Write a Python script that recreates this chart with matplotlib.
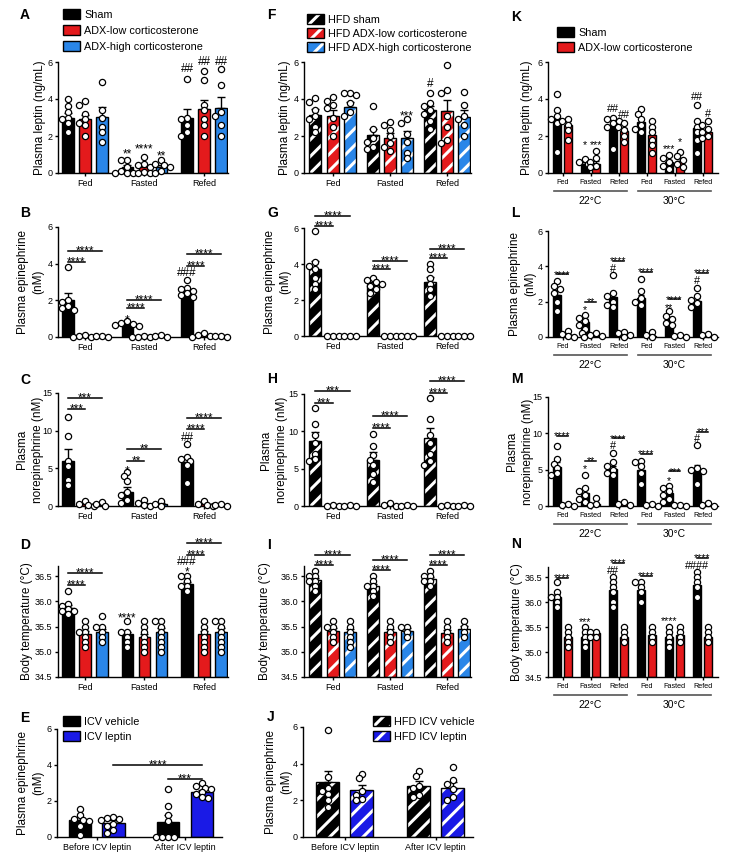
import matplotlib.pyplot as plt
from matplotlib.patches import Patch
from matplotlib.legend_handler import HandlerTuple

plt.rcParams['font.family'] = ['Liberation Sans', 'DejaVu Sans']
plt.rcParams['hatch.linewidth'] = 2.2
plt.rcParams['axes.linewidth'] = 1.0

RED = '#e41a1c'
BLUE = '#2a86e8'
DBLUE = '#1a1ae6'

# ---------------- data ----------------
meal = ['Fed', 'Fasted', 'Refed']
icv = ['Before ICV leptin', 'After ICV leptin']
temp_groups = ['Fed', 'Fasted', 'Refed', 'Fed', 'Fasted', 'Refed']

# A: plasma leptin, chow (sham, ADX-low, ADX-high) x (fed, fasted, refed)
A_mean = [[3.0, 0.3, 3.0], [2.9, 0.3, 3.45], [3.05, 0.35, 3.5]]
A_sem = [[0.25, 0.15, 0.45], [0.25, 0.12, 0.5], [0.5, 0.1, 0.6]]
A_pts = [[[4.0, 3.6, 3.3, 3.0, 2.9, 2.7, 2.2], [0.7, 0.7, 0.3, 0.1, 0.0, 0.0, 0.0], [5.1, 3.0, 2.9, 2.6, 2.2, 2.0]],
         [[3.9, 3.7, 3.2, 2.9, 2.7, 2.6, 2.0], [0.85, 0.5, 0.45, 0.3, 0.05, 0.0, 0.0], [5.5, 5.05, 3.7, 3.4, 2.9, 2.6, 2.0]],
         [[4.9, 3.4, 3.0, 2.5, 2.2, 1.7], [0.7, 0.5, 0.45, 0.35, 0.1, 0.0], [5.6, 4.75, 3.3, 3.1, 2.6, 2.0]]]

# B: plasma epinephrine
B_mean = [[2.0, 0.7, 2.5], [0.05, 0.05, 0.1], [0.05, 0.05, 0.08]]
B_sem = [[0.38, 0.05, 0.12], [0.02, 0.02, 0.03], [0.02, 0.02, 0.02]]
B_pts = [[[3.8, 2.0, 1.9, 1.7, 1.6, 1.5], [0.85, 0.75, 0.7, 0.65, 0.6], [3.1, 2.7, 2.6, 2.5, 2.4, 2.3, 2.2]],
         [[0.1, 0.05, 0.0, 0.0], [0.05, 0.0, 0.0, 0.0], [0.2, 0.1, 0.05, 0.0]],
         [[0.05, 0.05, 0.0], [0.1, 0.05, 0.0], [0.05, 0.05, 0.0]]]

# C: plasma norepinephrine
C_mean = [[6.0, 1.9, 5.8], [0.2, 0.3, 0.2], [0.15, 0.25, 0.1]]
C_sem = [[1.6, 0.6, 0.6], [0.1, 0.1, 0.1], [0.1, 0.1, 0.05]]
C_pts = [[[11.8, 9.3, 6.0, 5.3, 3.5, 2.8], [4.5, 4.0, 3.3, 1.8, 1.5, 0.8, 0.4], [8.2, 6.5, 6.2, 6.0, 5.5, 3.0]],
         [[0.6, 0.3, 0.1, 0.0], [0.8, 0.4, 0.1, 0.0], [0.6, 0.3, 0.1, 0.0]],
         [[0.5, 0.2, 0.0], [0.7, 0.3, 0.0], [0.2, 0.1, 0.0]]]

# D: body temperature
D_mean = [[35.87, 35.35, 36.35], [35.35, 35.3, 35.35], [35.4, 35.4, 35.4]]
D_sem = [[0.05, 0.05, 0.04], [0.06, 0.06, 0.06], [0.06, 0.07, 0.07]]
D_pts = [[[36.2, 35.95, 35.9, 35.85, 35.8, 35.8, 35.75], [35.6, 35.4, 35.4, 35.3, 35.2, 35.1], [36.5, 36.5, 36.4, 36.3, 36.3, 36.2]],
         [[35.6, 35.5, 35.4, 35.4, 35.3, 35.2, 35.1], [35.6, 35.5, 35.4, 35.3, 35.2, 35.1, 35.0], [35.6, 35.5, 35.4, 35.3, 35.2, 35.1, 35.0]],
         [[35.7, 35.5, 35.5, 35.4, 35.3, 35.2], [35.6, 35.6, 35.5, 35.4, 35.3, 35.2, 35.1, 35.0], [35.6, 35.6, 35.5, 35.4, 35.3, 35.2, 35.1, 35.0]]]

# E: epinephrine after ICV (vehicle, leptin) x (before, after)
E_mean = [[0.95, 0.85], [0.8, 2.5]]
E_sem = [[0.15, 0.35], [0.12, 0.1]]
E_pts = [[[1.55, 1.2, 1.0, 0.95, 0.9, 0.6, 0.1], [2.65, 1.7, 1.2, 0.9, 0.0, 0.0, 0.0, 0.0]],
         [[1.1, 1.05, 1.0, 0.95, 0.7, 0.6, 0.4, 0.25], [3.0, 2.85, 2.75, 2.65, 2.5, 2.4, 2.2, 2.15]]]

# F: HFD plasma leptin
F_mean = [[3.15, 2.05, 3.4], [3.1, 1.9, 3.35], [3.55, 1.9, 3.05]]
F_sem = [[0.3, 0.35, 0.2], [0.3, 0.25, 0.6], [0.28, 0.35, 0.35]]
F_pts = [[[4.05, 3.85, 3.4, 3.1, 2.9, 2.5, 2.2], [3.6, 2.4, 1.9, 1.7, 1.4, 1.3], [4.3, 3.8, 3.6, 3.4, 3.2, 2.8, 2.4]],
         [[4.1, 3.9, 3.7, 3.5, 3.0, 2.5, 2.0], [2.75, 2.6, 2.3, 2.0, 1.6, 1.4, 1.2], [5.85, 4.5, 4.3, 3.1, 2.5, 1.8, 1.6]],
         [[4.35, 4.3, 4.2, 3.8, 3.3, 3.1], [2.9, 2.7, 2.1, 1.7, 1.1, 0.8], [4.4, 3.7, 3.1, 2.9, 2.6, 2.0]]]

# G: HFD epinephrine
G_mean = [[3.7, 2.9, 3.0], [0.02, 0.02, 0.02], [0.02, 0.02, 0.02]]
G_sem = [[0.45, 0.12, 0.3], [0.01, 0.01, 0.01], [0.01, 0.01, 0.01]]
G_pts = [[[5.85, 4.1, 3.9, 3.7, 3.2, 2.9, 2.6], [3.25, 3.1, 3.0, 2.9, 2.8, 2.6, 2.4], [4.0, 3.7, 3.2, 2.9, 2.6, 2.2]],
         [[0.0, 0.0, 0.0], [0.0, 0.0, 0.0], [0.0, 0.0, 0.0]],
         [[0.0, 0.0, 0.0], [0.0, 0.0, 0.0], [0.0, 0.0, 0.0]]]

# H: HFD norepinephrine
H_mean = [[8.7, 6.1, 9.1], [0.1, 0.15, 0.1], [0.1, 0.1, 0.1]]
H_sem = [[1.2, 1.1, 1.4], [0.05, 0.05, 0.05], [0.05, 0.05, 0.05]]
H_pts = [[[13.1, 11.0, 9.5, 8.5, 7.0, 6.3, 6.0], [9.7, 8.0, 6.8, 6.2, 5.5, 4.3, 3.2], [14.5, 11.7, 9.5, 8.5, 7.0, 6.0, 5.5]],
         [[0.1, 0.0, 0.0], [0.4, 0.1, 0.0], [0.1, 0.0, 0.0]],
         [[0.2, 0.0, 0.0], [0.2, 0.0, 0.0], [0.2, 0.0, 0.0]]]

# I: HFD body temperature
I_mean = [[36.42, 36.3, 36.45], [35.42, 35.4, 35.38], [35.4, 35.42, 35.45]]
I_sem = [[0.05, 0.05, 0.04], [0.05, 0.05, 0.05], [0.06, 0.06, 0.06]]
I_pts = [[[36.6, 36.5, 36.5, 36.4, 36.4, 36.3, 36.2], [36.5, 36.4, 36.3, 36.3, 36.2, 36.1], [36.6, 36.5, 36.5, 36.4, 36.4, 36.3]],
         [[35.6, 35.5, 35.5, 35.4, 35.3, 35.2], [35.6, 35.5, 35.4, 35.3, 35.2], [35.6, 35.5, 35.4, 35.3, 35.2]],
         [[35.6, 35.5, 35.4, 35.3, 35.2, 35.1], [35.5, 35.5, 35.4, 35.3], [35.6, 35.5, 35.4, 35.3]]]

# J: HFD epinephrine after ICV
J_mean = [[3.0, 2.8], [2.55, 2.7]]
J_sem = [[0.6, 0.25], [0.3, 0.3]]
J_pts = [[[5.85, 3.25, 2.7, 2.5, 2.35, 2.0, 1.65], [3.6, 3.35, 2.8, 2.7, 2.3, 2.2]],
         [[3.45, 3.2, 2.5, 2.3, 2.1, 2.0], [3.8, 3.1, 2.9, 2.6, 2.2, 2.0]]]

# K-N: (sham, ADX-low) x 6 groups (22C fed/fasted/refed, 30C fed/fasted/refed)
K_mean = [[2.95, 0.5, 2.6, 2.75, 0.6, 2.45], [2.6, 0.5, 2.25, 2.05, 0.65, 2.2]]
K_sem = [[0.4, 0.08, 0.25, 0.2, 0.12, 0.35], [0.2, 0.15, 0.2, 0.3, 0.15, 0.15]]
K_pts = [[[4.25, 3.4, 3.1, 2.9, 2.7, 1.15], [0.75, 0.6, 0.5, 0.4], [3.0, 2.9, 2.8, 2.7, 2.5, 1.3],
          [3.45, 3.2, 2.9, 2.6, 2.4, 2.2], [0.95, 0.8, 0.6, 0.4, 0.2], [3.7, 2.8, 2.5, 2.2, 1.8, 1.1]],
         [[2.9, 2.8, 2.6, 2.3, 1.8], [1.2, 0.8, 0.6, 0.4, 0.3], [2.7, 2.5, 2.3, 2.0, 1.7],
          [2.8, 2.5, 2.2, 1.8, 1.5, 1.1], [1.15, 0.9, 0.7, 0.5, 0.3], [2.8, 2.6, 2.4, 2.2, 2.0, 1.9]]]

L_mean = [[2.4, 0.85, 2.25, 2.2, 1.0, 2.05], [0.1, 0.08, 0.1, 0.08, 0.05, 0.08]]
L_sem = [[0.25, 0.15, 0.25, 0.2, 0.12, 0.15], [0.05, 0.05, 0.05, 0.05, 0.05, 0.05]]
L_pts = [[[3.15, 2.9, 2.7, 2.5, 2.0, 1.5], [1.25, 1.1, 0.9, 0.7, 0.45, 0.2], [3.5, 2.5, 2.3, 2.0, 1.8, 1.7],
          [3.3, 2.6, 2.2, 2.0, 1.8], [1.45, 1.2, 1.0, 0.8, 0.7], [2.8, 2.3, 2.1, 1.9, 1.7]],
         [[0.35, 0.15, 0.05, 0.0], [0.2, 0.1, 0.05, 0.0], [0.3, 0.2, 0.1, 0.0],
          [0.3, 0.1, 0.0], [0.1, 0.05, 0.0], [0.15, 0.1, 0.0]]]

M_mean = [[5.4, 1.8, 5.1, 5.0, 1.8, 5.0], [0.2, 0.3, 0.3, 0.1, 0.1, 0.1]]
M_sem = [[0.6, 0.55, 0.45, 0.6, 0.35, 0.6], [0.05, 0.15, 0.1, 0.05, 0.05, 0.05]]
M_pts = [[[8.2, 6.4, 5.8, 5.2, 4.5, 4.2], [4.3, 2.5, 2.0, 1.5, 1.0, 0.5], [7.3, 6.0, 5.5, 5.0, 4.5, 4.2],
          [6.2, 6.0, 5.5, 4.5, 3.0], [2.8, 2.5, 2.0, 1.5, 1.0, 0.5], [8.4, 5.2, 5.0, 4.8, 3.0]],
         [[0.3, 0.1, 0.0], [1.1, 0.3, 0.1], [0.6, 0.3, 0.1], [0.3, 0.1, 0.0], [0.2, 0.1, 0.0], [0.4, 0.1, 0.0]]]

N_mean = [[36.1, 35.3, 36.25, 36.25, 35.3, 36.35], [35.3, 35.38, 35.3, 35.35, 35.35, 35.3]]
N_sem = [[0.07, 0.07, 0.09, 0.07, 0.07, 0.08], [0.06, 0.03, 0.05, 0.05, 0.06, 0.05]]
N_pts = [[[36.4, 36.2, 36.1, 36.1, 36.0, 35.9], [35.5, 35.4, 35.3, 35.2, 35.1], [36.5, 36.4, 36.3, 36.2, 36.0, 35.9],
          [36.4, 36.4, 36.3, 36.2, 36.0], [35.5, 35.4, 35.3, 35.2, 35.1], [36.6, 36.5, 36.4, 36.3, 36.1]],
         [[35.5, 35.4, 35.3, 35.2, 35.1], [35.4, 35.4, 35.3, 35.3], [35.5, 35.4, 35.3, 35.2],
          [35.5, 35.4, 35.3, 35.2], [35.5, 35.4, 35.3, 35.2], [35.5, 35.4, 35.3, 35.2]]]

# ---------------- helpers ----------------
W, H = 732, 866
fig = plt.figure(figsize=(W / 100, H / 100), dpi=100)


def new_ax(x0, x1, ytop, ybot, ylim, yticks, xlim):
    ax = fig.add_axes([x0 / W, 1 - ybot / H, (x1 - x0) / W, (ybot - ytop) / H])
    ax.spines[['top', 'right']].set_visible(False)
    ax.tick_params(length=2.5, width=1, labelsize=6.5, pad=1.5)
    ax.set_ylim(*ylim)
    ax.set_yticks(yticks)
    ax.set_xlim(*xlim)
    return ax


def ylab(ax, text, xpx):
    bb = ax.get_position()
    ax.set_ylabel(text, fontsize=8.5, va='center', ha='center', linespacing=1.35)
    ax.yaxis.set_label_coords((xpx / W - bb.x0) / bb.width, 0.5)


def swarm(ax, x0, vals, step=3.0, dmin=4.8):
    # spread overlapping points sideways, like Prism's scatter-on-bar
    bb = ax.get_position()
    xl, yl = ax.get_xlim(), ax.get_ylim()
    sx = bb.width * W / (xl[1] - xl[0])
    sy = bb.height * H / (yl[1] - yl[0])
    placed, out = [], []
    for v in vals:
        yp = v * sy
        for k in [0, -1, 1, -2, 2, -3, 3, -4, 4]:
            xp = k * step
            if all((xp - a) ** 2 + (yp - b) ** 2 >= dmin ** 2 for a, b in placed):
                break
        placed.append((xp, yp))
        out.append(x0 + xp / sx)
    return out


def bars(ax, pos, means, sems, pts, colors, width, offs, base=0, hatch=None, cap=3):
    for k, c in enumerate(colors):
        for g, x in enumerate(pos):
            xb = x + offs[k]
            m, s, p = means[k][g], sems[k][g], pts[k][g]
            if hatch:
                ax.bar(xb, m - base, width, bottom=base, color=c, edgecolor='white',
                       hatch=hatch, linewidth=0, zorder=2)
                ax.bar(xb, m - base, width, bottom=base, fill=False, edgecolor='black',
                       linewidth=1, zorder=2.1)
            else:
                ax.bar(xb, m - base, width, bottom=base, color=c, edgecolor='black',
                       linewidth=1, zorder=2)
            ax.errorbar(xb, m, yerr=[[0], [s]], color='black', capsize=cap,
                        elinewidth=1, capthick=1, zorder=1.9)
            ax.scatter(swarm(ax, xb, p), p, s=20, facecolor='white', edgecolor='black',
                       linewidth=0.9, zorder=3, clip_on=False)


def bracket(ax, x1, x2, y, s, fs=8.5):
    ax.plot([x1, x2], [y, y], color='black', lw=1.1, clip_on=False, zorder=4)
    ax.annotate(s, ((x1 + x2) / 2, y), xytext=(0, -2.5), textcoords='offset points',
                ha='center', va='baseline', fontsize=fs, annotation_clip=False)


def mark(ax, x, y, s, fs=8.5):
    off = -4.6 if s[0] == '*' else -2.8
    ax.annotate(s, (x, y), xytext=(0, off * fs / 8.5), textcoords='offset points',
                ha='center', va='baseline', fontsize=fs, annotation_clip=False)


def letter(xpx, ypx, s):
    fig.text(xpx / W, 1 - ypx / H, s, fontsize=10, fontweight='bold', ha='left', va='center')


def legend(xpx, ypx, labels, colors, hatch=None, spacing=0.5):
    if hatch:
        handles = [(Patch(facecolor=c, edgecolor='white', hatch=hatch, linewidth=0),
                    Patch(fill=False, edgecolor='black', linewidth=1)) for c in colors]
    else:
        handles = [Patch(facecolor=c, edgecolor='black', linewidth=1) for c in colors]
    fig.legend(handles, labels, loc='upper left', bbox_to_anchor=(xpx / W, 1 - ypx / H),
               frameon=False, fontsize=7.8, handlelength=1.6, handleheight=1.05,
               handletextpad=0.35, labelspacing=spacing, borderpad=0, borderaxespad=0,
               handler_map={tuple: HandlerTuple(ndivide=1)})


def temp_axis(ax):
    ax.set_xticks(range(6), temp_groups)
    ax.tick_params(axis='x', labelsize=5.2)
    h = ax.get_position().height * H
    tr = ax.get_xaxis_transform()
    for lo, hi, t in [(-0.3, 2.3, '22°C'), (2.7, 5.3, '30°C')]:
        ax.plot([lo, hi], [-18 / h] * 2, transform=tr, color='#555555', lw=1.2, clip_on=False)
        ax.text((lo + hi) / 2, -28 / h, t, transform=tr, ha='center', va='center', fontsize=7.5)


three = ['black', RED, BLUE]
off3a = [-0.285, 0, 0.285]
off3f = [-0.3, 0, 0.3]
pos3 = [0, 1, 2]
pos6 = [0, 1, 2, 3, 4, 5]
off2k = [-0.19, 0.19]
lep_t = [0, 2, 4, 6]
ne_t = [0, 5, 10, 15]
tp_t = [34.5, 35.0, 35.5, 36.0, 36.5]
xa = (-0.45, 2.4)
xf = (-0.5, 2.42)
xk = (-0.52, 5.55)
fk = 7.8  # annotation size in the narrow column

# ---------------- column 1 ----------------
ax = new_ax(58, 228, 62, 173, (0, 6), lep_t, xa)
bars(ax, pos3, A_mean, A_sem, A_pts, three, 0.2, off3a)
ax.set_xticks(pos3, meal)
ylab(ax, 'Plasma leptin (ng/mL)', 40)
mark(ax, 1 - 0.285, 1.16, '**'); mark(ax, 1, 1.47, '****'); mark(ax, 1.285, 1.1, '**')
mark(ax, 2 - 0.285, 5.65, '##'); mark(ax, 2, 6.04, '##'); mark(ax, 2.285, 6.04, '##')

ax = new_ax(58, 228, 227, 337, (0, 6), lep_t, xa)
bars(ax, pos3, B_mean, B_sem, B_pts, three, 0.2, off3a)
ax.set_xticks(pos3, meal)
ylab(ax, 'Plasma epinephrine\n(nM)', 31)
for g, y1, y2 in [(0, 4.07, 4.68), (1, 1.56, 2.02), (2, 3.9, 4.53)]:
    bracket(ax, g - 0.285, g, y1, '****'); bracket(ax, g - 0.285, g + 0.285, y2, '****')
mark(ax, 1 - 0.285, 1.1, '*'); mark(ax, 2 - 0.285, 3.55, '###')

ax = new_ax(58, 228, 393, 506, (0, 15), ne_t, xa)
bars(ax, pos3, C_mean, C_sem, C_pts, three, 0.2, off3a)
ax.set_xticks(pos3, meal)
ylab(ax, 'Plasma\nnorepinephrine (nM)', 30)
for g, y1, y2, s in [(0, 12.86, 14.33, '***'), (1, 6.0, 7.57, '**'), (2, 10.2, 11.7, '****')]:
    bracket(ax, g - 0.285, g, y1, s); bracket(ax, g - 0.285, g + 0.285, y2, s)
mark(ax, 1 - 0.285, 5.1, '*'); mark(ax, 2 - 0.285, 9.1, '##')

ax = new_ax(58, 228, 566, 677, (34.5, 36.7), tp_t, xa)
bars(ax, pos3, D_mean, D_sem, D_pts, three, 0.2, off3a, base=34.5)
ax.set_xticks(pos3, meal)
ylab(ax, 'Body temperature (°C)', 27)
for g, y1, y2 in [(0, 36.32, 36.57), (2, 36.92, 37.15)]:
    bracket(ax, g - 0.285, g, y1, '****'); bracket(ax, g - 0.285, g + 0.285, y2, '****')
mark(ax, 1 - 0.285, 35.73, '****'); mark(ax, 2 - 0.285, 36.63, '*'); mark(ax, 2 - 0.285, 36.79, '###')

ax = new_ax(57, 222, 729, 837, (0, 6), lep_t, (-0.45, 1.42))
bars(ax, [0, 1], E_mean, E_sem, E_pts, ['black', DBLUE], 0.25, [-0.19, 0.19])
ax.set_xticks([0, 1], icv)
ylab(ax, 'Plasma epinephrine\n(nM)', 31)
bracket(ax, 0.19, 1.19, 4.0, '****'); bracket(ax, 0.81, 1.19, 3.25, '***')

# ---------------- column 2 ----------------
ax = new_ax(304, 471, 62, 173, (0, 6), lep_t, xf)
bars(ax, pos3, F_mean, F_sem, F_pts, three, 0.21, off3f, hatch='//')
ax.set_xticks(pos3, meal)
ylab(ax, 'Plasma leptin (ng/mL)', 285)
mark(ax, 1.3, 3.26, '***'); mark(ax, 2 - 0.3, 4.84, '#')

ax = new_ax(304, 471, 228, 336, (0, 6), lep_t, xf)
bars(ax, pos3, G_mean, G_sem, G_pts, three, 0.21, off3f, hatch='//')
ax.set_xticks(pos3, meal)
ylab(ax, 'Plasma epinephrine\n(nM)', 278)
for g, y1, y2 in [(0, 6.09, 6.69), (1, 3.7, 4.19), (2, 4.36, 4.82)]:
    bracket(ax, g - 0.3, g, y1, '****'); bracket(ax, g - 0.3, g + 0.3, y2, '****')

ax = new_ax(304, 471, 394, 506, (0, 15), ne_t, xf)
bars(ax, pos3, H_mean, H_sem, H_pts, three, 0.21, off3f, hatch='//')
ax.set_xticks(pos3, meal)
ylab(ax, 'Plasma\nnorepinephrine (nM)', 274)
for g, y1, y2, s in [(0, 13.8, 15.45, '***'), (1, 10.5, 12.0, '****'), (2, 15.13, 16.8, '****')]:
    bracket(ax, g - 0.3, g, y1, s); bracket(ax, g - 0.3, g + 0.3, y2, s)

ax = new_ax(304, 471, 566, 677, (34.5, 36.7), tp_t, xf)
bars(ax, pos3, I_mean, I_sem, I_pts, three, 0.21, off3f, base=34.5, hatch='//')
ax.set_xticks(pos3, meal)
ylab(ax, 'Body temperature (°C)', 265)
for g, y1, y2 in [(0, 36.72, 36.92), (1, 36.62, 36.82), (2, 36.72, 36.92)]:
    bracket(ax, g - 0.3, g, y1, '****'); bracket(ax, g - 0.3, g + 0.3, y2, '****')

ax = new_ax(303, 473, 727, 837, (0, 6), lep_t, (-0.46, 1.41))
bars(ax, [0, 1], J_mean, J_sem, J_pts, ['black', DBLUE], 0.25, [-0.187, 0.187], hatch='//')
ax.set_xticks([0, 1], icv)
ylab(ax, 'Plasma epinephrine\n(nM)', 279)

# ---------------- column 3 ----------------
ax = new_ax(548, 718, 62, 173, (0, 6), lep_t, xk)
bars(ax, pos6, K_mean, K_sem, K_pts, ['black', RED], 0.3, off2k, cap=2)
temp_axis(ax)
ylab(ax, 'Plasma leptin (ng/mL)', 527)
for g, ys, ss, yl, sl in [(1, 1.64, '*', 1.67, '***'), (2, 3.5, '##', 3.15, '##'),
                          (4, 1.46, '***', 1.8, '*'), (5, 4.16, '##', 3.24, '#')]:
    mark(ax, g - 0.19, ys, ss, fk); mark(ax, g + 0.19, yl, sl, fk)

ax = new_ax(548, 718, 231, 337, (0, 6), lep_t, xk)
bars(ax, pos6, L_mean, L_sem, L_pts, ['black', RED], 0.3, off2k, cap=2)
temp_axis(ax)
ylab(ax, 'Plasma epinephrine\n(nM)', 523)
for g, y, s in zip(pos6, [3.54, 1.99, 4.32, 3.69, 2.14, 3.64], ['****', '**', '****', '****', '****', '****']):
    bracket(ax, g - 0.19, g + 0.19, y, s, fk)
mark(ax, 1 - 0.19, 1.67, '*', fk); mark(ax, 2 - 0.19, 3.9, '#', fk)
mark(ax, 4 - 0.19, 1.8, '**', fk); mark(ax, 5 - 0.19, 3.22, '#', fk)

ax = new_ax(548, 718, 397, 506, (0, 15), ne_t, xk)
bars(ax, pos6, M_mean, M_sem, M_pts, ['black', RED], 0.3, off2k, cap=2)
temp_axis(ax)
ylab(ax, 'Plasma\nnorepinephrine (nM)', 520)
for g, y, s in zip(pos6, [9.64, 6.23, 9.32, 7.18, 4.77, 10.2], ['****', '**', '****', '****', '***', '***']):
    bracket(ax, g - 0.19, g + 0.19, y, s, fk)
mark(ax, 1 - 0.19, 5.45, '*', fk); mark(ax, 2 - 0.19, 8.3, '#', fk)
mark(ax, 4 - 0.19, 3.86, '*', fk); mark(ax, 5 - 0.19, 9.35, '#', fk)

ax = new_ax(548, 718, 567, 677, (34.5, 36.7), tp_t, xk)
bars(ax, pos6, N_mean, N_sem, N_pts, ['black', RED], 0.3, off2k, base=34.5, cap=2)
temp_axis(ax)
ylab(ax, 'Body temperature (°C)', 517)
for g, y in [(0, 36.48), (2, 36.79), (3, 36.53), (5, 36.89)]:
    bracket(ax, g - 0.19, g + 0.19, y, '****', fk)
mark(ax, 1 - 0.19, 35.65, '***', fk); mark(ax, 2 - 0.19, 36.63, '##', fk)
mark(ax, 4 - 0.19, 35.68, '****', fk); mark(ax, 5 - 0.19, 36.73, '####', fk)

# ---------------- legends & letters ----------------
legend(63, 9, ['Sham', 'ADX-low corticosterone', 'ADX-high corticosterone'], three)
legend(307, 14, ['HFD sham', 'HFD ADX-low corticosterone', 'HFD ADX-high corticosterone'],
       three, hatch='//', spacing=0.3)
legend(557, 27, ['Sham', 'ADX-low corticosterone'], ['black', RED], spacing=0.4)
legend(63, 716, ['ICV vehicle', 'ICV leptin'], ['black', DBLUE], spacing=0.4)
legend(373, 716, ['HFD ICV vehicle', 'HFD ICV leptin'], ['black', DBLUE], hatch='//', spacing=0.4)

for x, y, s in [(20, 15, 'A'), (20, 213, 'B'), (20, 380, 'C'), (20, 545, 'D'), (20, 718, 'E'),
                (267, 15, 'F'), (267, 213, 'G'), (267, 379, 'H'), (267, 545, 'I'), (267, 717, 'J'),
                (511, 17, 'K'), (511, 213, 'L'), (511, 379, 'M'), (511, 544, 'N')]:
    letter(x, y, s)

fig.savefig('out.png', dpi=100)
